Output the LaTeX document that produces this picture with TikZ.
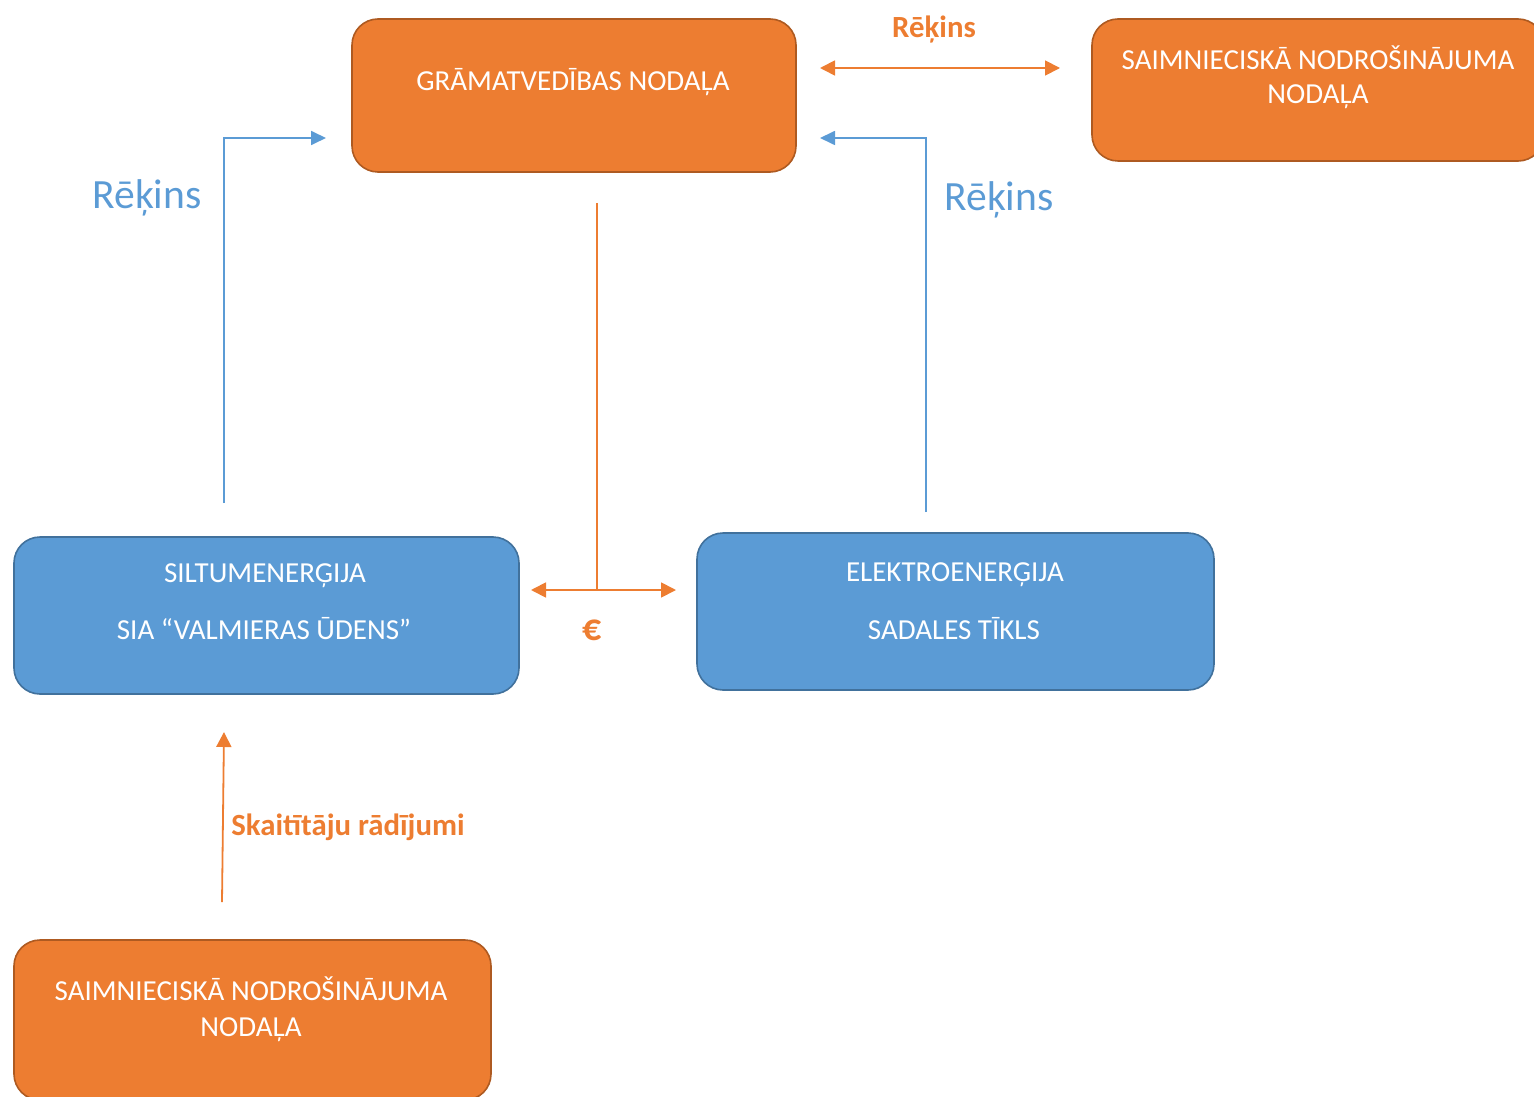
\documentclass[tikz,border=0pt]{standalone}
\usepackage{fontspec}
\setmainfont{Carlito}
\usetikzlibrary{arrows.meta}
\definecolor{orfill}{HTML}{ED7D31}
\definecolor{ordraw}{HTML}{AE5A21}
\definecolor{blfill}{HTML}{5B9BD5}
\definecolor{bldraw}{HTML}{41719C}
\tikzset{
  obox/.style={draw=ordraw, fill=orfill, rounded corners=13pt, line width=0.8pt, inner sep=0pt},
  bbox/.style={draw=bldraw, fill=blfill, rounded corners=13pt, line width=0.8pt, inner sep=0pt},
  boxtext/.style={text=white, font=\fontsize{14.5}{17}\selectfont, inner sep=0pt, anchor=base},
  oline/.style={draw=orfill, line width=0.9pt},
  bline/.style={draw=blfill, line width=0.9pt},
  otip/.style={-{Triangle[length=7.5pt,width=7.5pt]}},
  odtip/.style={{Triangle[length=7.5pt,width=7.5pt]}-{Triangle[length=7.5pt,width=7.5pt]}},
  btip/.style={-{Triangle[length=7.5pt,width=7pt]}},
  olab/.style={text=orfill, font=\bfseries\fontsize{15.4}{18}\selectfont, inner sep=0pt},
  blab/.style={text=blfill, font=\fontsize{20.8}{24}\selectfont, inner sep=0pt},
}
\begin{document}
\begin{tikzpicture}[x=0.5pt,y=-0.5pt]
\useasboundingbox (0,0) rectangle (1534,1096);
\clip (0,0) rectangle (1534,1096);
% boxes
\node[obox, minimum width=222pt, minimum height=76.5pt] (gram) at (574,95.5) {};
\node[obox, minimum width=226pt, minimum height=71pt] (saim1) at (1318,90) {};
\node[bbox, minimum width=252.5pt, minimum height=78.5pt] (silt) at (266.5,615.5) {};
\node[bbox, minimum width=258.5pt, minimum height=78.5pt] (elek) at (955.5,611.5) {};
\node[obox, minimum width=238.5pt, minimum height=80pt] (saim2) at (252.5,1020) {};
% box texts
\node[boxtext] (gramT) at (573,91) {GRĀMATVEDĪBAS NODAĻA};
\node[boxtext] (saim1T1) at (1318,70) {SAIMNIECISKĀ NODROŠINĀJUMA};
\node[boxtext] (saim1T2) at (1318,104) {NODAĻA};
\node[boxtext] (siltT1) at (265,582) {SILTUMENERĢIJA};
\node[boxtext] (siltT2) at (264,639) {SIA “VALMIERAS ŪDENS”};
\node[boxtext] (elekT1) at (955,581) {ELEKTROENERĢIJA};
\node[boxtext] (elekT2) at (954,639) {SADALES TĪKLS};
\node[boxtext] (saim2T1) at (251,1000) {SAIMNIECISKĀ NODROŠINĀJUMA};
\node[boxtext] (saim2T2) at (251,1036) {NODAĻA};
% connector end points
\coordinate (b1s) at (224,503);
\coordinate (b1e) at (326,138);
\coordinate (b2s) at (926,512);
\coordinate (b2e) at (820,138);
\coordinate (o1a) at (820,68);
\coordinate (o1b) at (1060,68);
\coordinate (o2s) at (597,203);
\coordinate (o2m) at (597,590);
\coordinate (o3a) at (531,590);
\coordinate (o3b) at (676,590);
\coordinate (o4s) at (222,902);
\coordinate (o4e) at (224,732);
% connectors
\draw[bline, btip] (b1s) |- (b1e);
\draw[bline, btip] (b2s) |- (b2e);
\draw[oline, odtip] (o1a) -- (o1b);
\draw[oline] (o2s) -- (o2m);
\draw[oline, odtip] (o3a) -- (o3b);
\draw[oline, otip] (o4s) -- (o4e);
% labels
\node[olab] (lab1) at (934,30) {Rēķins};
\node[blab] (lab2) at (147,198) {Rēķins};
\node[blab] (lab3) at (999,200) {Rēķins};
\node[olab, font=\bfseries\fontsize{19}{20}\selectfont] (lab4) at (592,630) {€};
\node[olab] (lab5) at (348,827) {Skaitītāju rādījumi};
\end{tikzpicture}
\end{document}
